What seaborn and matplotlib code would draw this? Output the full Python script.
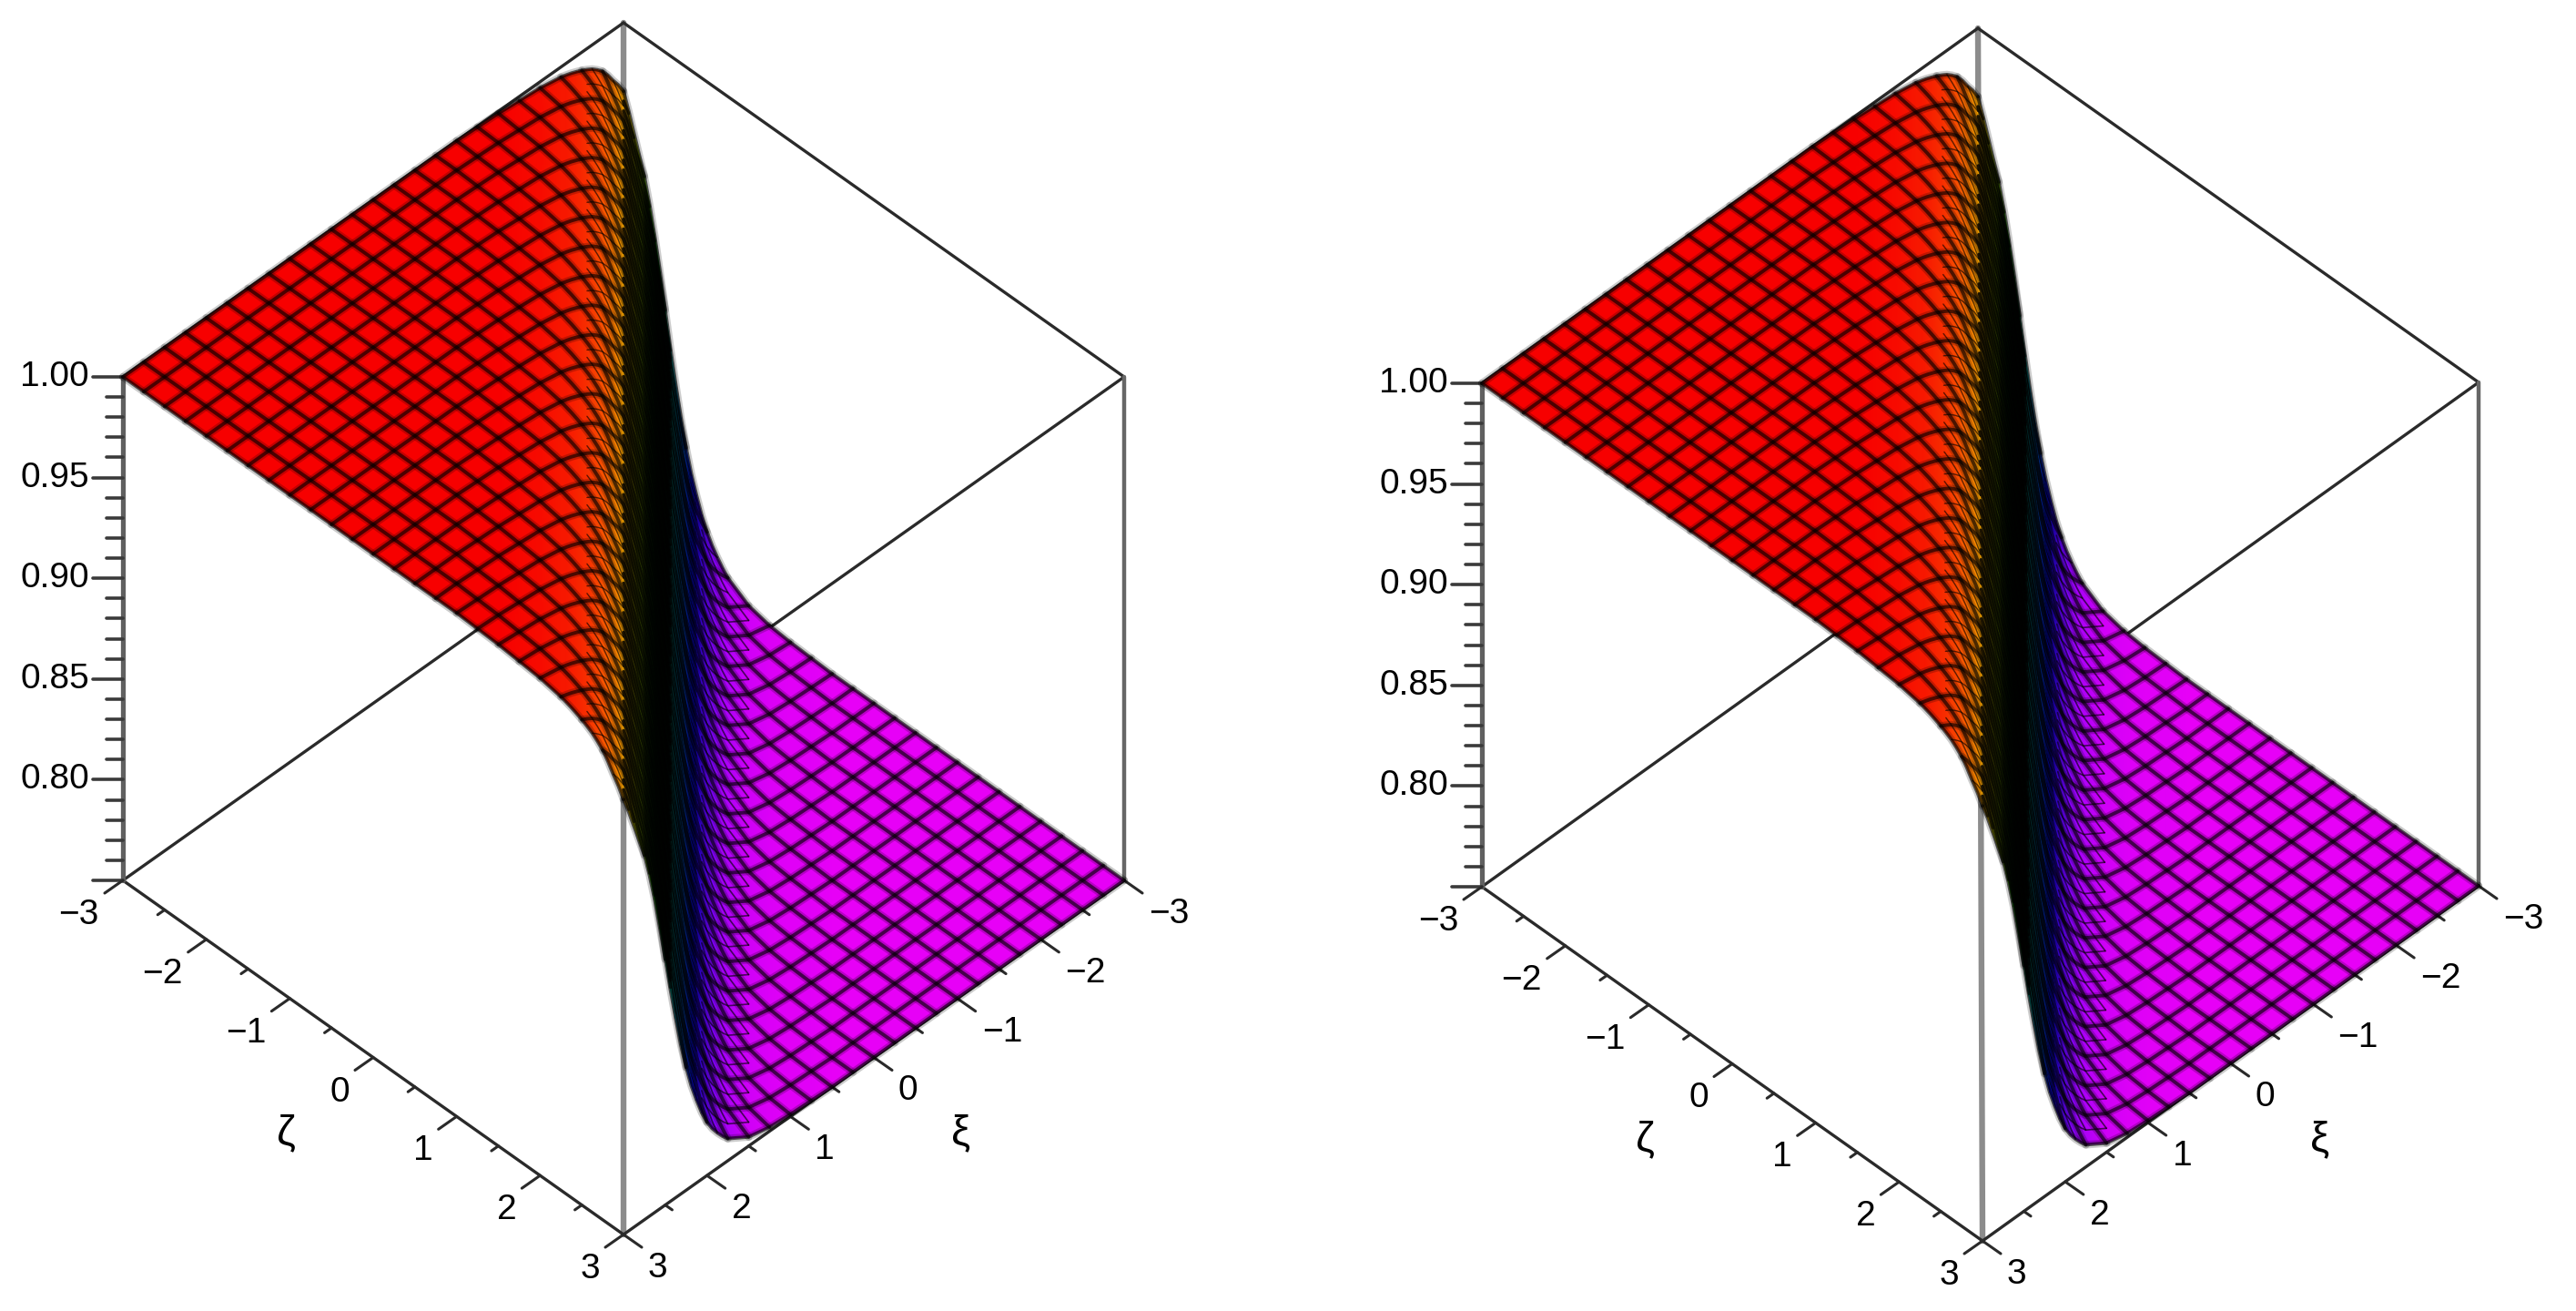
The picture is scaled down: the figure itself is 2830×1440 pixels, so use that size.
import numpy as np
import matplotlib
matplotlib.use('Agg')
import matplotlib.pyplot as plt
from matplotlib.collections import LineCollection
from matplotlib.colors import ListedColormap
import seaborn as sns

col_u = [6.0, 5.75, 5.5, 5.25, 5.0, 4.75, 4.5, 4.25, 4.0, 3.75, 3.5, 3.25, 3.0, 2.75, 2.5, 2.25,
         2.0, 1.75, 1.5, 1.25, 1.0, 0.75, 0.6875, 0.625, 0.5625, 0.5, 0.4375, 0.375, 0.3125, 0.25,
         0.1875, 0.125, 0.0625, 0.0, -0.0625, -0.125, -0.1875, -0.25, -0.3125, -0.375, -0.4375,
         -0.5, -0.5625, -0.625, -0.6875, -0.75, -0.8125, -0.875, -0.9375, -1.0, -1.0625, -1.125,
         -1.1875, -1.25, -1.5, -1.75, -2.0, -2.25, -2.5, -2.75, -3.0, -3.25, -3.5, -3.75, -4.0,
         -4.25, -4.5, -4.75, -5.0, -5.25, -5.5, -5.75, -6.0]
col_z = [1.0, 1.0, 1.0, 1.0, 1.0, 1.0, 1.0, 1.0, 1.0, 1.0, 1.0, 1.0, 1.0, 1.0, 1.0, 1.0,
         1.0, 0.9995, 0.999, 0.998, 0.997, 0.995, 0.9942, 0.9933, 0.9922, 0.991, 0.9896, 0.988, 0.9858, 0.9832,
         0.9795, 0.975, 0.971, 0.966, 0.958, 0.949, 0.94, 0.931, 0.919, 0.905, 0.889,
         0.872, 0.855, 0.839, 0.824, 0.811, 0.8, 0.791, 0.783, 0.7765, 0.7715, 0.7675,
         0.764, 0.761, 0.7545, 0.752, 0.751, 0.7505, 0.75, 0.75, 0.75, 0.75, 0.75, 0.75, 0.75,
         0.75, 0.75, 0.75, 0.75, 0.75, 0.75, 0.75, 0.75]

z_major = [0.80, 0.85, 0.90, 0.95, 1.00]
z_labels = ['0.80', '0.85', '0.90', '0.95', '1.00']
z_minor = [0.75, 0.76, 0.77, 0.78, 0.79, 0.81, 0.82, 0.83, 0.84, 0.86, 0.87, 0.88, 0.89,
           0.91, 0.92, 0.93, 0.94, 0.96, 0.97, 0.98, 0.99]
xy_major = [-3, -2, -1, 0, 1, 2, 3]
xy_labels = ['\u22123', '\u22122', '\u22121', '0', '1', '2', '3']
xy_minor = [-2.5, -1.5, -0.5, 0.5, 1.5, 2.5]
grid_lines = [-3.0, -2.75, -2.5, -2.25, -2.0, -1.75, -1.5, -1.25, -1.0, -0.75, -0.5, -0.25, 0.0,
              0.25, 0.5, 0.75, 1.0, 1.25, 1.5, 1.75, 2.0, 2.25, 2.5, 2.75, 3.0]
# extra mesh lines between the main ones: offsets, u range, line width
fine_layers = [
    ([1 / 12, 2 / 12], (-0.5625, 0.0), 2.4),
    ([1 / 12, 2 / 12], (-0.875, -0.5625), 0.6),
    ([1 / 8], (-1.5, -0.9375), 1.2),
    ([1 / 8], (0.0, 0.4375), 1.0),
]

# pixel anchors of the two boxes: left corner, front corner, right corner, box height
panels = [
    {'L': (135, 967), 'F': (685, 1356), 'R': (1235, 967), 'h': 553},
    {'L': (1628, 974), 'F': (2178, 1363), 'R': (2723, 973), 'h': 553},
]

sns.set_theme(style='white')
plt.rcParams['font.family'] = ['Liberation Sans', 'DejaVu Sans']

hue_map = ListedColormap(np.array(sns.color_palette('hsv', 256)) * 0.97)
edge = '#2a2a2a'

fig = plt.figure(figsize=(28.3, 14.4), dpi=100)
ax = fig.add_axes([0, 0, 1, 1])
ax.set_xlim(0, 2830)
ax.set_ylim(1440, 0)
ax.axis('off')


def project(p, zeta, xi, z):
    L, F, R = np.array(p['L'], float), np.array(p['F'], float), np.array(p['R'], float)
    a = (np.asarray(zeta, float) + 3) / 6
    b = (3 - np.asarray(xi, float)) / 6
    x = L[0] + a * (F[0] - L[0]) + b * (R[0] - F[0])
    y = L[1] + a * (F[1] - L[1]) + b * (R[1] - F[1]) - (np.asarray(z, float) - 0.75) / 0.25 * p['h']
    return x, y


def seg(p1, p2, color=edge, lw=2.4, zorder=1):
    sns.lineplot(x=[p1[0], p2[0]], y=[p1[1], p2[1]], color=color, linewidth=lw,
                 estimator=None, sort=False, ax=ax, zorder=zorder, legend=False)


def mesh_lines(p, values, u, z):
    out = []
    for c in values:
        m = (u >= c - 3) & (u <= c + 3)
        if m.sum() > 1:
            out.append(np.column_stack(project(p, c - u[m], np.full(m.sum(), c), z[m])))
        m = (u >= -3 - c) & (u <= 3 - c)
        if m.sum() > 1:
            out.append(np.column_stack(project(p, np.full(m.sum(), c), c + u[m], z[m])))
    return out


def draw_panel(p):
    u = np.array(col_u)
    z = np.array(col_z)
    corner = {
        'L': project(p, -3, 3, 0.75), 'UL': project(p, -3, 3, 1.0),
        'F': project(p, 3, 3, 0.75), 'UF': project(p, 3, 3, 1.0),
        'R': project(p, 3, -3, 0.75), 'UR': project(p, 3, -3, 1.0),
        'B': project(p, -3, -3, 0.75), 'UB': project(p, -3, -3, 1.0),
    }

    # box behind the surface
    seg(corner['UB'], corner['F'], color='#8c8c8c', lw=4.6)
    seg(corner['UB'], corner['UL'])
    seg(corner['UB'], corner['UR'])
    seg(corner['UF'], corner['UR'])
    seg(corner['L'], corner['B'])
    seg(corner['UR'], corner['R'], color='#666666', lw=3.2)
    seg(corner['L'], corner['F'])
    seg(corner['F'], corner['R'])
    seg(corner['L'], corner['UL'], color='#606060', lw=3.8)

    # coloured strips, hue follows height
    half = 6 - np.abs(u)
    xi_a, zeta_a = (half + u) / 2, (half - u) / 2
    xi_b, zeta_b = (-half + u) / 2, (-half - u) / 2
    xa, ya = project(p, zeta_a, xi_a, z)
    xb, yb = project(p, zeta_b, xi_b, z)
    X = np.column_stack([xa, xb])
    Y = np.column_stack([ya, yb])
    C = np.column_stack([z, z])
    ax.pcolormesh(X, Y, (1 - C) / 0.25 * 5 / 6, cmap=hue_map, vmin=0, vmax=1,
                  shading='gouraud', zorder=2, rasterized=True)

    # wire grid along xi and zeta, soft halo under a darker core
    lines = mesh_lines(p, grid_lines, u, z)
    ax.add_collection(LineCollection(lines, colors='#000000', linewidths=6.0, alpha=0.2,
                                     zorder=3, capstyle='round'))
    ax.add_collection(LineCollection(lines, colors='#000000', linewidths=2.8, alpha=0.62,
                                     zorder=3, capstyle='round'))

    # denser mesh on the cliff
    for offsets, (u_lo, u_hi), width in fine_layers:
        mask = (u >= u_lo) & (u <= u_hi)
        fine = []
        for c in grid_lines[:-1]:
            for d in offsets:
                fine += mesh_lines(p, [c + d], u[mask], z[mask])
        ax.add_collection(LineCollection(fine, colors='#000000', linewidths=width, alpha=0.62,
                                         zorder=3, capstyle='round'))

    # z axis ticks
    x0 = corner['L'][0]
    for v in z_minor + z_major:
        _, y = project(p, -3, 3, v)
        ln = 33 if v in z_major or v == 0.75 else 18
        seg((x0 - ln, y), (x0, y), color='#3a3a3a', lw=2.6)
    for v, t in zip(z_major, z_labels):
        _, y = project(p, -3, 3, v)
        ax.text(x0 - 37, y, t, ha='right', va='center', fontsize=28, color='black')

    # zeta axis, L to F
    for v in xy_minor + xy_major:
        x, y = project(p, v, 3, 0.75)
        k = 1 if v in xy_major else 0.38
        seg((x, y), (x - 20 * k, y + 14 * k), lw=2.2)
    for v, t in zip(xy_major, xy_labels):
        x, y = project(p, v, 3, 0.75)
        ax.text(x - 26, y + 38, t, ha='right', va='center', fontsize=28, color='black')

    # xi axis, F to R
    for v in xy_minor + xy_major:
        x, y = project(p, 3, v, 0.75)
        k = 1 if v in xy_major else 0.38
        seg((x, y), (x + 20 * k, y + 14 * k), lw=2.2)
    for v, t in zip(xy_major, xy_labels):
        x, y = project(p, 3, v, 0.75)
        ax.text(x + 27, y + 37, t, ha='left', va='center', fontsize=28, color='black')

    fx, fy = corner['F']
    ax.text(fx - 371, fy - 111, '\u03b6', ha='center', va='center', fontsize=34, color='black')
    ax.text(fx + 371, fy - 111, '\u03be', ha='center', va='center', fontsize=34, color='black')


for panel in panels:
    draw_panel(panel)

fig.savefig('out.png', dpi=100, facecolor='white')
